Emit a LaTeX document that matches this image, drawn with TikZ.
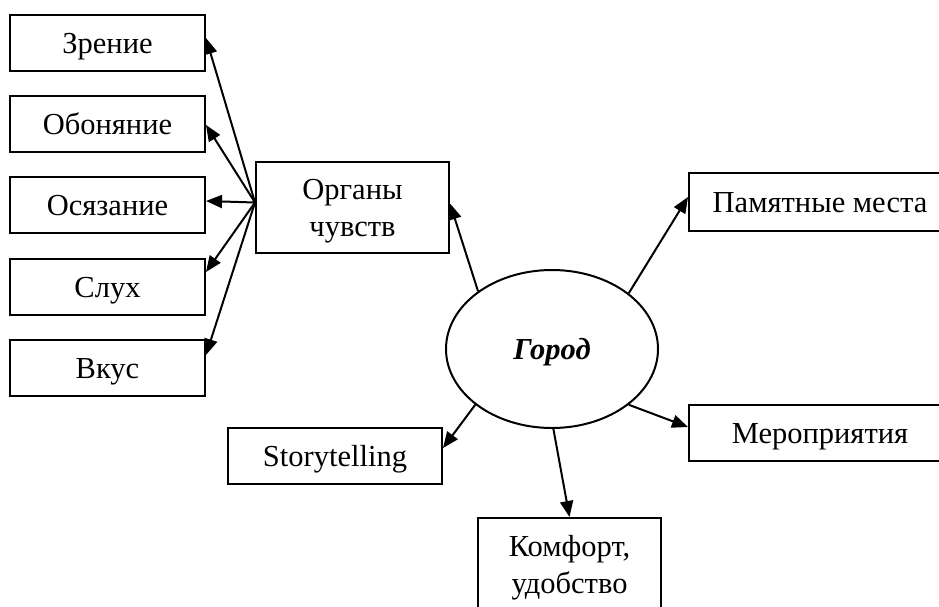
\documentclass[tikz,border=0pt]{standalone}
\usepackage{fontspec}
\setmainfont{Liberation Serif}
\usetikzlibrary{shapes.geometric,arrows.meta,calc}
\begin{document}
\begin{tikzpicture}[x=1pt,y=-1pt,
  box/.style={draw,line width=2pt,inner sep=0pt,align=center,text depth=0pt,font=\fontsize{30.5}{37}\selectfont},
  one/.style={box,text height=20pt},
  two/.style={box,text height=57pt},
  arr/.style={line width=2pt,-{Triangle[length=16pt,width=13pt]}}]
\useasboundingbox (0,0) rectangle (939,606);
\clip (0,0) rectangle (939,606);
% left column
\node[one,minimum width=195pt,minimum height=56pt] (zr) at (107.5,43) {Зрение};
\node[one,minimum width=195pt,minimum height=56pt] (ob) at (107.5,124) {Обоняние};
\node[one,minimum width=195pt,minimum height=56pt] (os) at (107.5,205) {Осязание};
\node[one,minimum width=195pt,minimum height=56pt] (sl) at (107.5,287) {Слух};
\node[one,minimum width=195pt,minimum height=56pt] (vk) at (107.5,368) {Вкус};
% senses
\node[two,minimum width=193pt,minimum height=91pt] (org) at (352.5,207.5) {Органы\\чувств};
% centre
\node[ellipse,draw,line width=2pt,minimum width=212pt,minimum height=158pt,inner sep=0pt,
      text height=20pt,text depth=0pt,
      font=\fontsize{30.5}{37}\selectfont\bfseries\itshape] (g) at (552,349) {Город};
% right and bottom
\node[one,minimum width=262pt,minimum height=58pt] (pm) at (820,202) {Памятные места};
\node[one,minimum width=262pt,minimum height=56pt] (me) at (820,433) {Мероприятия};
\node[one,minimum width=214pt,minimum height=56pt] (st) at (335,456) {Storytelling};
\node[two,minimum width=183pt,minimum height=94pt] (ko) at (569.5,565) {Комфорт,\\удобство};
% arrows from senses
\coordinate (s) at ($(org.west)+(0,-5)$);
\draw[arr] (s) -- ($(zr.east)+(0,-5)$);
\draw[arr] (s) -- ($(ob.east)+(0,1)$);
\draw[arr] (s) -- ($(os.east)+(0,-4)$);
\draw[arr] (s) -- ($(sl.east)+(0,-15)$);
\draw[arr] (s) -- ($(vk.east)+(0,-13)$);
% arrows from city
\draw[arr] (g.142.8) -- ($(org.east)+(0,-4)$);
\draw[arr] (g.36) -- ($(pm.west)+(0,-5)$);
\draw[arr] (g.-36) -- ($(me.west)+(0,-6)$);
\draw[arr] (g.216.7) -- ($(st.east)+(0,-8)$);
\draw[arr] (g.-89) -- (ko.north);
\end{tikzpicture}
\end{document}
